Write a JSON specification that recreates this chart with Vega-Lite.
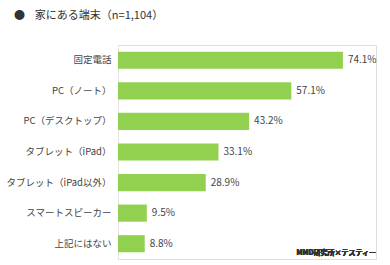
{
  "$schema": "https://vega.github.io/schema/vega-lite/v6.json",
  "autosize": {"type": "none"},
  "width": 258,
  "height": 214,
  "padding": {"left": 118, "top": 45, "right": 14, "bottom": 6},
  "background": "white",
  "title": {
    "text": "●\u00a0\u00a0\u00a0\u00a0家にある端末（n=1,104）",
    "anchor": "start",
    "frame": "group",
    "dx": -104,
    "offset": 24,
    "font": "Noto Sans CJK JP",
    "fontSize": 11,
    "fontWeight": "normal",
    "color": "#333333"
  },
  "data": {
    "values": [
      {"device": "固定電話", "share": 0.741},
      {"device": "PC（ノート）", "share": 0.571},
      {"device": "PC（デスクトップ）", "share": 0.432},
      {"device": "タブレット（iPad）", "share": 0.331},
      {"device": "タブレット（iPad以外）", "share": 0.289},
      {"device": "スマートスピーカー", "share": 0.095},
      {"device": "上記にはない", "share": 0.088}
    ]
  },
  "encoding": {
    "y": {
      "field": "device",
      "type": "nominal",
      "sort": null,
      "scale": {"paddingInner": 0.44, "paddingOuter": 0.22},
      "axis": {
        "title": null,
        "ticks": false,
        "labelPadding": 7,
        "labelFont": "Noto Sans CJK JP",
        "labelFontSize": 9.5,
        "labelColor": "#444444",
        "domainColor": "#e6e6e6",
        "domainWidth": 1,
        "grid": false
      }
    },
    "x": {
      "field": "share",
      "type": "quantitative",
      "scale": {"domain": [0, 0.85]},
      "axis": null
    }
  },
  "layer": [
    {"mark": {"type": "bar", "color": "#92d050"}},
    {
      "mark": {
        "type": "text",
        "align": "left",
        "baseline": "middle",
        "dx": 5,
        "font": "Noto Sans CJK JP",
        "fontSize": 10,
        "color": "#444444"
      },
      "encoding": {"text": {"field": "share", "type": "quantitative", "format": ".1%"}}
    },
    {
      "mark": {
        "type": "text",
        "align": "right",
        "baseline": "middle",
        "dy": 9,
        "font": "Noto Sans CJK JP",
        "fontSize": 7,
        "fontWeight": "bold",
        "color": "#333333",
        "text": "MMD研究所×テスティー"
      },
      "encoding": {
        "x": {"datum": 0.85},
        "y": {"datum": "上記にはない"},
        "text": null
      }
    }
  ]
}
